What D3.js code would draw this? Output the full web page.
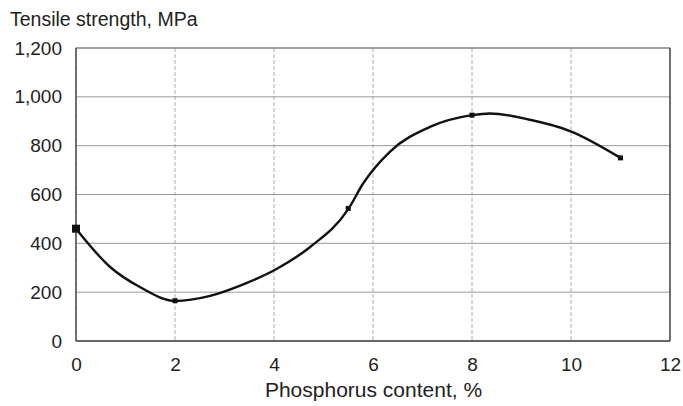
<!DOCTYPE html>
<html>
<head>
<meta charset="UTF-8">
<script src="https://d3js.org/d3.v7.min.js"></script>
<style>
    body { margin: 0; background: #fff; }
    svg { display: block; }
    text { font-family: "Liberation Sans", Arial, sans-serif; fill: #222; }
</style>
</head>
<body>
<svg id="chart" width="683" height="406"></svg>
<script>
    const phosphorus = [0, 2, 5.5, 8, 11]
    const strength = [460, 165, 543, 925, 750]
    // the drawn smooth curve
    const curveX = [0, 0.69, 1.29, 2.0, 2.71, 3.38, 4.05, 4.73, 5.5, 5.8, 6.34, 7.15, 8.0, 8.36, 9.17, 9.98, 11]
    const curveY = [460, 303, 221, 164, 185, 232, 295, 385, 540, 645, 775, 877, 925, 932, 906, 860, 750]
    const xTicks = [0, 2, 4, 6, 8, 10, 12]
    const yTicks = [0, 200, 400, 600, 800, 1000, 1200]

    const svg = d3.select('#chart')
    const margin = { top: 48, left: 76, right: 13, bottom: 65 }
    const width = 683, height = 406
    const innerWidth = width - margin.left - margin.right
    const innerHeight = height - margin.top - margin.bottom

    const x = d3.scaleLinear().domain([0, 12]).range([0, innerWidth])
    const y = d3.scaleLinear().domain([0, 1200]).range([innerHeight, 0])

    const g = svg.append('g')
        .attr('transform', `translate(${margin.left},${margin.top})`)

    // grid
    g.selectAll('.vgrid').data(xTicks).enter().append('line')
        .attr('x1', d => x(d)).attr('x2', d => x(d))
        .attr('y1', 0).attr('y2', innerHeight)
        .attr('stroke', '#999').attr('stroke-width', 0.8)
        .attr('stroke-dasharray', '4,2')
    g.selectAll('.hgrid').data(yTicks).enter().append('line')
        .attr('x1', 0).attr('x2', innerWidth)
        .attr('y1', d => y(d)).attr('y2', d => y(d))
        .attr('stroke', '#999').attr('stroke-width', 1)

    // frame
    g.append('rect')
        .attr('width', innerWidth).attr('height', innerHeight)
        .attr('fill', 'none').attr('stroke', '#777').attr('stroke-width', 1)
    g.append('line').attr('x1', 0).attr('x2', 0).attr('y1', 0).attr('y2', innerHeight)
        .attr('stroke', '#555').attr('stroke-width', 1.4)
    g.append('line').attr('x1', 0).attr('x2', innerWidth).attr('y1', innerHeight).attr('y2', innerHeight)
        .attr('stroke', '#555').attr('stroke-width', 1.4)
    g.append('line').attr('x1', innerWidth).attr('x2', innerWidth).attr('y1', 0).attr('y2', innerHeight)
        .attr('stroke', '#555').attr('stroke-width', 1.4)

    // axes labels
    const xAxis = d3.axisBottom(x).tickValues(xTicks).tickSize(0).tickPadding(17)
    const xg = g.append('g').attr('transform', `translate(0,${innerHeight})`).call(xAxis)
    const yAxis = d3.axisLeft(y).tickValues(yTicks).tickSize(0).tickPadding(14)
        .tickFormat(d3.format(','))
    const yg = g.append('g').call(yAxis)
    for (const a of [xg, yg]) {
        a.attr('font-size', 19).attr('font-family', '"Liberation Sans", Arial, sans-serif')
        a.select('.domain').remove()
        a.selectAll('text').attr('fill', '#222')
    }

    // curve
    const pts = curveX.map((p, i) => [p, curveY[i]])
    const line = d3.line()
        .x(d => x(d[0])).y(d => y(d[1]))
        .curve(d3.curveMonotoneX)
    g.append('path').datum(pts)
        .attr('d', line)
        .attr('fill', 'none').attr('stroke', '#111').attr('stroke-width', 2.4)

    // markers
    const marks = phosphorus.map((p, i) => [p, strength[i]])
    g.selectAll('.mk').data(marks).enter().append('rect')
        .attr('x', (d, i) => x(d[0]) - (i === 0 ? 4 : 2.5))
        .attr('y', (d, i) => y(d[1]) - (i === 0 ? 4 : 2.5))
        .attr('width', (d, i) => i === 0 ? 8 : 5)
        .attr('height', (d, i) => i === 0 ? 8 : 5)
        .attr('fill', '#111')

    // titles
    svg.append('text')
        .attr('x', 10).attr('y', 26)
        .style('font-size', '19.5px')
        .text('Tensile strength, MPa')
    svg.append('text')
        .attr('x', (260 + 487) / 2).attr('y', 397)
        .attr('text-anchor', 'middle')
        .style('font-size', '21px')
        .text('Phosphorus content, %')
</script>
</body>
</html>
